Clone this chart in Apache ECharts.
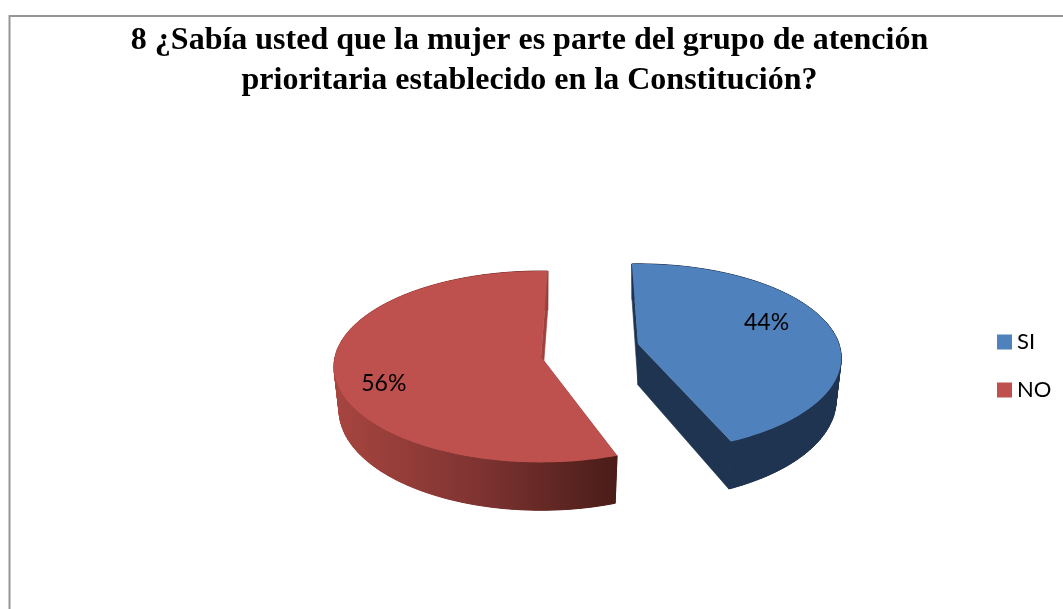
<!DOCTYPE html>
<html>
<head>
<meta charset="utf-8">
<style>html,body{margin:0;padding:0;background:#fff}#c{width:1063px;height:609px}</style>
<script src="https://cdn.jsdelivr.net/npm/echarts@6/dist/echarts.min.js"></script>
</head>
<body>
<div id="c"></div>
<script>
var titleLines = ['8 ¿Sabía usted que la mujer es parte del grupo de atención', 'prioritaria establecido en la Constitución?'];
var categories = ['SI', 'NO'];
var percentages = [44, 56];

// Projection of each exploded slice of the tilted 3D pie
var sliceLooks = [
  {cx: 638, cy: 344, rx: 201, ry: 92, persp: 0.148, depth: 41, start: -2, labelAngle: 70, labelRadius: 0.705,
   top: '#4f81bd', wall: '#1f3450', sideStops: ['#1f3450', '#1f3450', '#1f3450']},
  {cx: 541, cy: 357, rx: 206, ry: 94.7, persp: 0.1016, depth: 43, start: 160.5, labelAngle: 250, labelRadius: 0.79,
   top: '#be504d', wall: '#a0413e', sideStops: ['#a8453f', '#7f3432', '#4a1c18']}
];
var bottomScale = 0.975;

function project(g, deg, rad, lower) {
  var t = deg * Math.PI / 180, X = Math.sin(t) * rad, Y = Math.cos(t) * rad;
  var f = 1 / (1 + g.persp * Y);
  var sx = lower ? bottomScale : 1;
  return [g.cx + g.rx * X * f * sx, g.cy - g.ry * Y * f + (lower ? g.depth * f : 0)];
}

function renderSlice(i) {
  return function (params, api) {
    var g = sliceLooks[i];
    var sweep = api.value(0) / 100 * 360;
    var a0 = g.start, a1 = g.start + sweep;
    var rimTop = [], rimLow = [];
    for (var a = a0; a < a1; a += 1.5) {
      rimTop.push(project(g, a, 1, false));
      rimLow.push(project(g, a, 1, true));
    }
    rimTop.push(project(g, a1, 1, false));
    rimLow.push(project(g, a1, 1, true));
    var cTop = project(g, 0, 0, false), cLow = project(g, 0, 0, true);
    var xs = rimTop.map(function (p) { return p[0]; });
    var sideFill = new echarts.graphic.LinearGradient(Math.min.apply(null, xs), 0, Math.max.apply(null, xs), 0, [
      {offset: 0, color: g.sideStops[0]},
      {offset: 0.5, color: g.sideStops[1]},
      {offset: 1, color: g.sideStops[2]}
    ], true);
    var first = [rimTop[0], rimLow[0], cLow, cTop];
    var last = [rimTop[rimTop.length - 1], rimLow[rimLow.length - 1], cLow, cTop];
    var label = project(g, g.labelAngle, g.labelRadius, false);
    var children = [{type: 'polygon', shape: {points: first}, style: {fill: g.wall, stroke: g.wall, lineWidth: 0.6}}];
    // one quad per rim step, so the silhouette joins the top and bottom rims
    for (var k = 0; k + 1 < rimTop.length; k++) {
      children.push({type: 'polygon', shape: {points: [rimTop[k], rimTop[k + 1], rimLow[k + 1], rimLow[k]]},
        style: {fill: sideFill, stroke: sideFill, lineWidth: 1}});
    }
    // solid band over the quads hides the seams between them
    children.push(
      {type: 'polygon', shape: {points: rimTop.concat(rimLow.slice().reverse())}, style: {fill: sideFill}},
      {type: 'polygon', shape: {points: last}, style: {fill: g.wall, stroke: g.wall, lineWidth: 0.6}},
      {type: 'polygon', shape: {points: [cTop].concat(rimTop)}, style: {fill: g.top}},
      {type: 'text', x: label[0], y: label[1], style: {
        text: api.value(0) + '%', fill: '#000', font: '23px Lato', textAlign: 'center', textVerticalAlign: 'middle'
      }}
    );
    return {type: 'group', children: children};
  };
}

var chart = echarts.init(document.getElementById('c'), null, {renderer: 'canvas'});
chart.setOption({
  animation: false,
  backgroundColor: '#fff',
  title: {
    text: titleLines.join('\n'),
    left: 524.5, top: 16, textAlign: 'center',
    textStyle: {fontFamily: 'Liberation Serif', fontWeight: 'bold', fontSize: 32, lineHeight: 40, color: '#000'}
  },
  legend: {
    orient: 'vertical', left: 997, top: 331, padding: 0, itemWidth: 15, itemHeight: 15, itemGap: 26,
    icon: 'rect', data: categories,
    textStyle: {fontFamily: 'Lato', fontSize: 22, color: '#000'}
  },
  graphic: [{
    type: 'polyline', silent: true,
    shape: {points: [[9.5, 609], [9.5, 16], [1063, 16]]},
    style: {stroke: '#969696', lineWidth: 2, fill: null}
  }],
  series: categories.map(function (name, i) {
    return {
      type: 'custom', name: name, coordinateSystem: 'none', silent: true,
      itemStyle: {color: sliceLooks[i].top},
      renderItem: renderSlice(i),
      data: [percentages[i]]
    };
  })
});
</script>
</body>
</html>
